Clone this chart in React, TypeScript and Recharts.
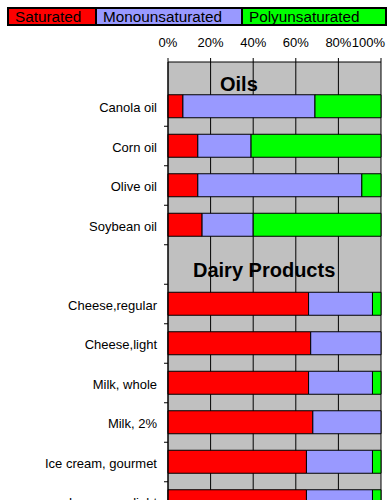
import { BarChart, Bar, XAxis, YAxis, CartesianGrid } from "recharts";

const categories = [
  "Oils",
  "Canola oil",
  "Corn oil",
  "Olive oil",
  "Soybean oil",
  "Dairy Products",
  "Cheese,regular",
  "Cheese,light",
  "Milk, whole",
  "Milk, 2%",
  "Ice cream, gourmet",
  "Ice cream, light",
];
const saturated = [null, 7, 14, 14, 16, null, 66, 67, 66, 68, 65, 65];
const monounsaturated = [null, 62, 25, 77, 24, null, 30, 33, 30, 32, 31, 31];
const polyunsaturated = [null, 31, 61, 9, 60, null, 4, 0, 4, 0, 4, 4];
const percentTicks = [0, 20, 40, 60, 80, 100];

const headers: Record<string, { dx: number; dy: number }> = {
  Oils: { dx: 52, dy: 24 },
  "Dairy Products": { dx: 25, dy: 12.5 },
};

const legendItems = [
  { label: "Saturated", color: "#FF0000", left: 7, width: 90 },
  { label: "Monounsaturated", color: "#9999FF", left: 95, width: 148 },
  { label: "Polyunsaturated", color: "#00FF00", left: 241, width: 146 },
];

const FONT = "'Liberation Sans', Arial, sans-serif";
const PLOT_LEFT = 168;
const HALF_BAND = 19.75;

const chartData = categories.map((name, i) => ({
  name,
  sat: saturated[i],
  mono: monounsaturated[i],
  poly: polyunsaturated[i],
}));

const CategoryTick = (props: any) => {
  const { y, payload } = props;
  const name = payload.value as string;
  const header = headers[name];
  if (header) {
    return (
      <g>
        <text
          x={PLOT_LEFT + header.dx}
          y={y + header.dy}
          fontFamily={FONT}
          fontSize={20}
          fontWeight="bold"
          fill="#000"
        >
          {name}
        </text>
        {name !== "Oils" && (
          <line x1={PLOT_LEFT - 4} x2={PLOT_LEFT} y1={y + HALF_BAND} y2={y + HALF_BAND} stroke="#000" />
        )}
      </g>
    );
  }
  return (
    <g>
      <text x={PLOT_LEFT - 11} y={y + 5.5} textAnchor="end" fontFamily={FONT} fontSize={13} fill="#000">
        {name}
      </text>
      <line x1={PLOT_LEFT - 4} x2={PLOT_LEFT} y1={y + HALF_BAND} y2={y + HALF_BAND} stroke="#000" />
    </g>
  );
};

const PercentTick = (props: any) => {
  const { x, y, payload } = props;
  const last = payload.value === 100;
  return (
    <text
      x={last ? x + 4 : x}
      y={y}
      textAnchor={last ? "end" : "middle"}
      fontFamily={FONT}
      fontSize={13}
      fill="#000"
    >
      {`${payload.value}%`}
    </text>
  );
};

export default function App() {
  return (
    <div style={{ position: "absolute", left: 0, top: 0, width: 389, height: 530 }}>
      <BarChart
        width={389}
        height={530}
        data={chartData}
        layout="vertical"
        margin={{ top: 0, right: 8, left: 0, bottom: 8.75 }}
        barSize={23}
        style={{ overflow: "visible" }}
      >
        <CartesianGrid horizontal={false} stroke="#000" fill="#C0C0C0" fillOpacity={1} />
        <XAxis
          type="number"
          orientation="top"
          domain={[0, 100]}
          ticks={percentTicks}
          height={62}
          tickSize={4}
          tickMargin={11}
          axisLine={{ stroke: "#000" }}
          tickLine={{ stroke: "#000" }}
          tick={<PercentTick />}
          interval={0}
        />
        <YAxis
          type="category"
          dataKey="name"
          width={168}
          padding={{ top: -14.75, bottom: 0 }}
          axisLine={{ stroke: "#000" }}
          tickLine={false}
          interval={0}
          tick={<CategoryTick />}
        />
        <Bar dataKey="sat" stackId="a" fill="#FF0000" stroke="#000" isAnimationActive={false} />
        <Bar dataKey="mono" stackId="a" fill="#9999FF" stroke="#000" isAnimationActive={false} />
        <Bar dataKey="poly" stackId="a" fill="#00FF00" stroke="#000" isAnimationActive={false} />
      </BarChart>
      {legendItems.map((item) => (
        <div
          key={item.label}
          style={{
            position: "absolute",
            left: item.left,
            top: 7,
            width: item.width,
            height: 19,
            boxSizing: "border-box",
            border: "2px solid #000",
            background: item.color,
            fontFamily: FONT,
            fontSize: 15.3,
            lineHeight: "15px",
            paddingLeft: 6,
            color: "#000",
            whiteSpace: "nowrap",
          }}
        >
          {item.label}
        </div>
      ))}
    </div>
  );
}
